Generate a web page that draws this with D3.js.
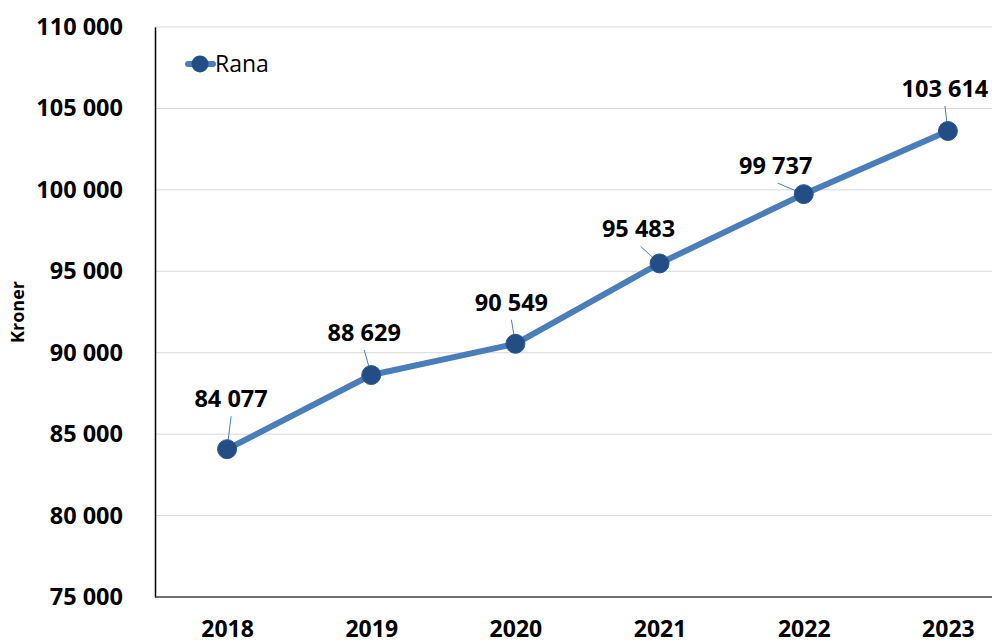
<!DOCTYPE html>
<html>
<head>
<meta charset="utf-8">
<script src="https://cdn.jsdelivr.net/npm/d3@7"></script>
<style>
  html, body { margin: 0; padding: 0; background: #fff; }
  svg { display: block; }
  text { font-family: "Open Sans", "Liberation Sans", sans-serif; }
</style>
</head>
<body>
<script>
// ---- data ----
const years = ["2018", "2019", "2020", "2021", "2022", "2023"];
const rana = [84077, 88629, 90549, 95483, 99737, 103614];
const yTicks = [75000, 80000, 85000, 90000, 95000, 100000, 105000, 110000];
const seriesName = "Rana";
const yTitle = "Kroner";

// label offsets relative to point (layout, not data)
const labelOffsets = [[4, -42], [-7, -34], [-4, -33], [-21, -26], [-28, -20], [-3, -34]];

const W = 992, H = 644;
const plot = { left: 155, top: 27, bottom: 597, right: 1020 };

const fmt = v => d3.format(",")(v).replace(/,/g, " ");

const svg = d3.select("body").append("svg").attr("width", W).attr("height", H);

const x = d3.scalePoint().domain(years).range([plot.left, plot.right]).padding(0.5);
const y = d3.scaleLinear().domain([75000, 110000]).range([plot.bottom, plot.top]);

// gridlines
svg.append("g").selectAll("line").data(yTicks.filter(t => t > 75000)).join("line")
  .attr("x1", plot.left).attr("x2", W)
  .attr("y1", d => y(d)).attr("y2", d => y(d))
  .attr("stroke", "#d9d9d9").attr("stroke-width", 1);

// y axis
const yAxis = svg.append("g").attr("transform", `translate(${plot.left},0)`)
  .call(d3.axisLeft(y).tickValues(yTicks).tickFormat(fmt).tickSize(0).tickPadding(32));
yAxis.select(".domain").attr("stroke", "#000").attr("stroke-width", 1.5);
yAxis.selectAll("text").attr("font-size", 23.5).attr("font-weight", "bold").attr("fill", "#000")
  .attr("font-family", "'Open Sans', sans-serif");

// x axis
const xAxis = svg.append("g").attr("transform", `translate(0,${plot.bottom})`)
  .call(d3.axisBottom(x).tickSize(0).tickPadding(24));
xAxis.select(".domain").attr("stroke", "#404040").attr("stroke-width", 1.5).attr("d", `M${plot.left},0H${plot.right}`);
xAxis.selectAll("text").attr("font-size", 23).attr("font-weight", "bold").attr("fill", "#000")
  .attr("font-family", "'Open Sans', sans-serif");

// y title
svg.append("text")
  .attr("transform", `translate(24,312) rotate(-90)`)
  .attr("text-anchor", "middle")
  .attr("font-size", 18).attr("font-weight", "bold").attr("fill", "#000")
  .text(yTitle);

const pts = years.map((yr, i) => ({ yr, v: rana[i], i }));

// line
svg.append("path").datum(pts)
  .attr("fill", "none").attr("stroke", "#4a7ebb").attr("stroke-width", 6)
  .attr("stroke-linejoin", "round").attr("stroke-linecap", "round")
  .attr("d", d3.line().x(d => x(d.yr)).y(d => y(d.v)));

// leader lines
svg.append("g").selectAll("line").data(pts).join("line")
  .attr("x1", d => x(d.yr) + labelOffsets[d.i][0] + (labelOffsets[d.i][0] < -10 ? 2 : 0))
  .attr("y1", d => y(d.v) + labelOffsets[d.i][1] + 9)
  .attr("x2", d => x(d.yr))
  .attr("y2", d => y(d.v))
  .attr("stroke", "#4a7ebb").attr("stroke-width", 1);

// markers
svg.append("g").selectAll("circle").data(pts).join("circle")
  .attr("cx", d => x(d.yr)).attr("cy", d => y(d.v)).attr("r", 9.5)
  .attr("fill", "#234d85").attr("stroke", "#2b5a96").attr("stroke-width", 1);

// data labels
svg.append("g").selectAll("text").data(pts).join("text")
  .attr("x", d => x(d.yr) + labelOffsets[d.i][0])
  .attr("y", d => y(d.v) + labelOffsets[d.i][1])
  .attr("text-anchor", "middle")
  .attr("font-size", 23.5).attr("font-weight", "bold").attr("fill", "#000")
  .text(d => fmt(d.v));

// legend
const lg = svg.append("g").attr("transform", "translate(200,64)");
lg.append("line").attr("x1", -12).attr("x2", 13).attr("y1", 0).attr("y2", 0)
  .attr("stroke", "#4a7ebb").attr("stroke-width", 6).attr("stroke-linecap", "round");
lg.append("circle").attr("r", 8.5).attr("fill", "#234d85");
lg.append("text").attr("x", 15).attr("y", 8).attr("font-size", 23).attr("fill", "#000").text(seriesName);
</script>
</body>
</html>
